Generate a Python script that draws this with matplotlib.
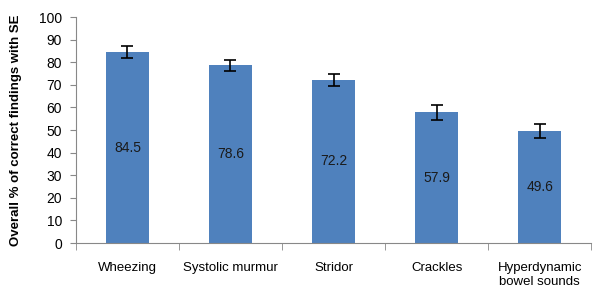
import numpy as np
import matplotlib.pyplot as plt

plt.rcParams['font.family'] = ['Liberation Sans', 'DejaVu Sans']

categories = ["Wheezing", "Systolic murmur", "Stridor", "Crackles", "Hyperdynamic\nbowel sounds"]
values = [84.5, 78.6, 72.2, 57.9, 49.6]
errors = [2.5, 2.6, 2.5, 3.3, 3.2]

fig = plt.figure(figsize=(6.02, 2.89), dpi=100)
ax = fig.add_axes([0.126, 0.159, 0.856, 0.782])

x = np.arange(len(categories))
ax.bar(x, values, width=0.42, color="#4F81BD", zorder=2)
ax.errorbar(x, values, yerr=errors, fmt="none", ecolor="black",
            elinewidth=1.2, capsize=4, capthick=1.2, zorder=3)

for xi, v in zip(x, values):
    ax.text(xi, v / 2, f"{v}", ha="center", va="center", fontsize=10, color="#1a1a1a")

ax.set_xlim(-0.5, len(categories) - 0.5)
ax.set_ylim(0, 100)
ax.set_yticks(np.arange(0, 101, 10))
ax.set_xticks(x)
ax.set_xticklabels(categories, fontsize=9.5)
ax.set_xticks(np.arange(-0.5, len(categories), 1), minor=True)
ax.tick_params(axis="x", which="major", length=0, pad=14)
ax.tick_params(axis="x", which="minor", length=5, color="#888888")
ax.tick_params(axis="y", labelsize=10, length=4, color="#888888", pad=6)

for s in ["top", "right"]:
    ax.spines[s].set_visible(False)
ax.spines["left"].set_color("#888888")
ax.spines["bottom"].set_color("#888888")

ax.set_ylabel("Overall % of correct findings with SE", fontsize=9.5, fontweight="bold", labelpad=12)

fig.savefig("out.png", dpi=100)
